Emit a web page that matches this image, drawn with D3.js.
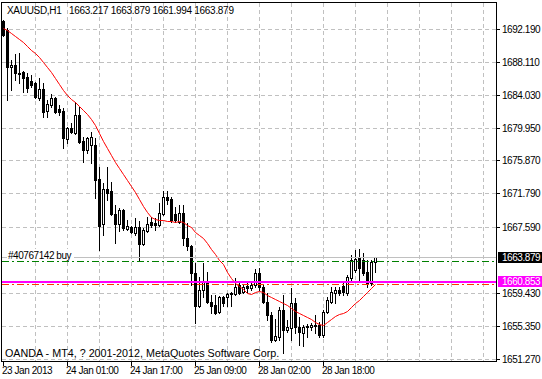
<!DOCTYPE html>
<html><head><meta charset="utf-8">
<script src="https://cdn.jsdelivr.net/npm/d3@7"></script>
<style>
html,body{margin:0;padding:0;background:#fff;overflow:hidden}
svg{display:block}
text{font-family:"Liberation Sans",Arial,sans-serif;font-size:10px;letter-spacing:-0.45px;fill:#000;white-space:pre}
</style>
</head><body><svg id="c" width="542" height="379"></svg>
<script>
// ---- data (XAUUSD H1) ----
const openP = [
1693.18,1692.06,1687.46,1687.71,1686.72,1686.84,1686.22,1685.72,1685.47,1683.61,
1684.73,1681.99,1682.74,1683.61,1682.24,1681.99,1678.51,1679.88,1679.26,1681.50,
1678.26,1677.15,1677.77,1677.77,1673.54,1667.95,1672.30,1672.05,1669.19,1667.95,
1669.69,1667.32,1667.57,1666.83,1667.57,1665.46,1667.08,1668.20,1668.07,1667.82,
1669.19,1671.30,1671.05,1669.19,1668.20,1669.31,1666.21,1665.21,1661.86,1657.75,
1659.74,1660.86,1658.25,1657.88,1657.01,1658.87,1658.87,1659.37,1659.24,1660.37,
1659.49,1660.24,1659.99,1660.37,1661.86,1660.11,1658.25,1656.63,1653.53,1653.90,
1657.26,1654.77,1655.02,1658.12,1655.14,1654.40,1655.27,1655.14,1655.39,1655.39,
1654.15,1657.01,1658.25,1659.37,1659.74,1660.24,1659.37,1661.23,1662.23,1663.72,
1663.47,1661.98,1660.61,1663.217];
const highP = [
1693.30,1692.31,1688.33,1689.08,1689.20,1686.97,1686.72,1686.47,1685.60,1686.10,
1685.47,1683.36,1684.11,1683.73,1682.74,1682.37,1680.00,1680.50,1683.11,1682.49,
1678.76,1678.76,1679.38,1678.64,1675.03,1673.04,1675.03,1673.17,1670.31,1669.94,
1669.81,1668.44,1667.70,1668.69,1668.32,1667.45,1668.82,1668.82,1668.69,1670.56,
1672.05,1672.05,1671.30,1670.06,1670.31,1670.31,1668.07,1665.34,1663.10,1661.36,
1663.10,1661.98,1659.12,1659.12,1658.99,1658.99,1659.37,1659.49,1661.23,1660.61,
1660.37,1660.61,1660.61,1662.35,1662.48,1660.37,1659.37,1657.01,1656.14,1657.63,
1659.12,1656.01,1659.99,1658.75,1656.39,1655.39,1655.52,1655.64,1656.63,1655.77,
1657.26,1658.87,1660.11,1660.11,1660.11,1660.74,1661.61,1664.09,1664.72,1664.84,
1664.34,1663.47,1663.47,1663.879];
const lowP = [
1691.32,1683.36,1684.60,1685.85,1685.47,1684.35,1684.35,1684.98,1683.61,1683.36,
1681.25,1681.25,1682.49,1681.74,1681.50,1677.39,1678.01,1679.26,1679.13,1678.01,
1675.65,1676.77,1675.53,1671.18,1664.72,1666.58,1670.93,1669.07,1665.59,1667.08,
1667.20,1667.20,1666.83,1666.58,1663.47,1665.34,1666.95,1667.57,1667.20,1667.70,
1669.07,1670.43,1668.20,1668.20,1668.07,1665.34,1664.72,1660.37,1655.64,1657.63,
1658.87,1658.12,1656.88,1656.76,1656.88,1657.75,1657.75,1657.75,1659.12,1659.24,
1659.37,1659.49,1659.74,1660.11,1659.74,1658.12,1656.01,1653.28,1653.40,1653.53,
1651.91,1654.52,1653.53,1654.40,1652.91,1652.78,1653.90,1654.77,1654.40,1653.90,
1653.90,1656.88,1658.12,1658.12,1659.12,1659.12,1659.12,1660.99,1661.98,1660.99,
1661.61,1660.11,1660.37,1661.994];
const closeP = [
1691.44,1687.46,1687.71,1686.72,1686.59,1686.10,1684.85,1685.23,1683.73,1684.73,
1681.87,1682.86,1683.61,1681.87,1681.87,1678.64,1679.88,1679.38,1681.50,1678.14,
1677.15,1678.64,1678.76,1673.42,1667.70,1672.30,1671.80,1669.19,1667.95,1669.69,
1667.45,1667.70,1666.95,1667.57,1665.46,1667.20,1667.95,1667.82,1667.82,1669.31,
1671.30,1670.93,1668.44,1668.44,1669.31,1666.21,1665.21,1661.86,1657.75,1659.74,
1660.86,1658.25,1657.75,1656.88,1658.87,1658.12,1659.24,1659.30,1660.11,1659.37,
1660.11,1659.99,1660.37,1661.86,1660.11,1658.25,1656.63,1653.53,1654.03,1657.26,
1654.77,1655.14,1658.12,1655.14,1654.52,1655.14,1655.22,1655.39,1655.35,1654.15,
1657.01,1658.50,1659.49,1659.74,1659.37,1659.49,1661.36,1663.47,1663.60,1662.48,
1661.86,1660.61,1663.22,1663.879];
const maP = [
1692.31,1692.06,1691.69,1691.32,1690.94,1690.57,1690.07,1689.58,1689.20,1688.71,
1688.08,1687.46,1686.84,1686.10,1685.35,1684.60,1683.98,1683.48,1683.11,1682.61,
1682.12,1681.62,1681.00,1680.25,1679.26,1678.26,1677.39,1676.52,1675.65,1674.91,
1674.16,1673.42,1672.67,1671.92,1671.05,1670.18,1669.44,1668.82,1668.57,1668.44,
1668.44,1668.32,1668.32,1668.20,1668.32,1668.20,1667.82,1667.57,1666.95,1666.58,
1666.21,1665.59,1664.84,1664.22,1663.47,1662.98,1661.98,1661.23,1660.61,1660.24,
1659.87,1659.37,1659.24,1659.49,1659.62,1659.49,1659.12,1658.87,1658.63,1658.38,
1658.12,1657.88,1657.50,1657.13,1656.88,1656.63,1656.39,1656.14,1655.77,1655.52,
1655.39,1655.77,1656.14,1656.51,1656.76,1656.88,1657.13,1657.63,1658.12,1658.50,
1658.99,1659.49,1659.99,1660.49];
const yTickValues = [1692.19,1688.11,1684.03,1679.95,1675.87,1671.79,1667.59,1659.43,1655.35,1651.27];
const xTickBars = [0,16,32,48,64,80];
const xTickLabels = ["23 Jan 2013","24 Jan 01:00","24 Jan 17:00","25 Jan 09:00","28 Jan 02:00","28 Jan 18:00"];
const gridBars = [8,16,24,32,40,48,56,64,72,80,88,96,104,112,120];
const titleText = "XAUUSD,H1   1663.217 1663.879 1661.994 1663.879";
const footerText = "OANDA - MT4, ? 2001-2012, MetaQuotes Software Corp.";
const orderLabel = "#40767142 buy";
const bidPrice = 1663.879;
const orderPrice = 1663.38;
const stopPrice = 1660.52;
const hlinePrice = 1660.853;

// ---- drawing ----
const svg = d3.select("#c");
const L = 1.5, T = 2.5, R = 496.5, B = 361.5;
const x = d3.scaleLinear().domain([0, 1]).range([3, 7]);           // left edge of centre pixel column
const y = d3.scaleLinear().domain([1651.27, 1692.19]).rangeRound([358.6, 29]);

svg.append("rect").attr("width", 542).attr("height", 379).attr("fill", "#fff");

// grid
const grid = svg.append("g").attr("stroke", "#c0c0c0").attr("stroke-dasharray", "4,3")
  .attr("shape-rendering", "crispEdges");
grid.selectAll("line.v").data(gridBars).join("line").attr("class", "v")
  .attr("x1", d => x(d) + 0.5).attr("x2", d => x(d) + 0.5).attr("y1", T).attr("y2", B);
grid.selectAll("line.h").data(yTickValues).join("line").attr("class", "h")
  .attr("x1", L).attr("x2", R).attr("y1", d => y(d) + 0.5).attr("y2", d => y(d) + 0.5);

// candles
const idx = d3.range(openP.length);
const cg = svg.append("g").attr("shape-rendering", "crispEdges");
idx.forEach(i => {
  const o = openP[i], h = highP[i], l = lowP[i], c = closeP[i];
  const yh = y(h), yl = y(l);
  cg.append("rect").attr("x", x(i)).attr("y", yh).attr("width", 1).attr("height", yl - yh + 1).attr("fill", "#000");
  const top = y(Math.max(o, c)), bot = y(Math.min(o, c));
  cg.append("rect").attr("x", x(i) - 1).attr("y", top).attr("width", 3).attr("height", bot - top + 1).attr("fill", "#000");
  if (c > o && bot - top >= 2) {
    cg.append("rect").attr("x", x(i)).attr("y", top + 1).attr("width", 1).attr("height", bot - top - 1).attr("fill", "#fff");
  }
});

// moving average
svg.append("path").datum(maP)
  .attr("d", d3.line().x((d, i) => x(i) + 0.5).y(d => y(d) + 0.5))
  .attr("fill", "none").attr("stroke", "#ff0000").attr("stroke-width", 1);

// bid line
svg.append("line").attr("x1", L).attr("x2", R).attr("y1", y(bidPrice) + 0.5).attr("y2", y(bidPrice) + 0.5)
  .attr("stroke", "#c0c0c0").attr("shape-rendering", "crispEdges");
// order label
svg.append("rect").attr("x", 7).attr("y", y(bidPrice) - 8).attr("width", 67).attr("height", 11).attr("fill", "#fff");
svg.append("text").attr("x", 8).attr("y", y(bidPrice) + 2).text(orderLabel);
// order line
svg.append("line").attr("x1", L).attr("x2", R).attr("y1", y(orderPrice) + 0.5).attr("y2", y(orderPrice) + 0.5)
  .attr("stroke", "#008000").attr("stroke-dasharray", "7,3,2,3").attr("shape-rendering", "crispEdges");
// horizontal line object
svg.append("line").attr("x1", L).attr("x2", R).attr("y1", y(hlinePrice) + 1).attr("y2", y(hlinePrice) + 1)
  .attr("stroke", "#ff00ff").attr("stroke-width", 2).attr("shape-rendering", "crispEdges");
// stop line
svg.append("line").attr("x1", L).attr("x2", R).attr("y1", y(stopPrice) + 0.5).attr("y2", y(stopPrice) + 0.5)
  .attr("stroke", "#ff3300").attr("stroke-dasharray", "7,3,2,3").attr("shape-rendering", "crispEdges");

// frame
svg.append("rect").attr("x", L).attr("y", T).attr("width", R - L).attr("height", B - T)
  .attr("fill", "none").attr("stroke", "#000").attr("shape-rendering", "crispEdges");

// y axis
svg.append("g").attr("transform", `translate(${R + 0.5},0)`)
  .call(d3.axisRight(y).tickValues(yTickValues).tickSize(3).tickPadding(2).tickFormat(d3.format(".3f")))
  .call(g => g.select(".domain").remove())
  .call(g => g.selectAll("line").attr("stroke", "#000").attr("shape-rendering", "crispEdges"));

// x axis
svg.append("g").attr("transform", `translate(0,${B + 0.5})`)
  .call(d3.axisBottom(x).tickValues(xTickBars).tickSize(4).tickPadding(1).tickFormat((d, i) => xTickLabels[i]))
  .call(g => g.select(".domain").remove())
  .call(g => g.selectAll("line").attr("stroke", "#000").attr("shape-rendering", "crispEdges"))
  .call(g => g.selectAll("text").attr("text-anchor", "start").attr("x", -1.5));

// price labels on axis
function priceTag(p, bg) {
  const yy = y(p);
  svg.append("rect").attr("x", 498).attr("y", yy - 5).attr("width", 44).attr("height", 11).attr("fill", bg);
  svg.append("text").attr("x", 502).attr("y", yy + 4).style("fill", "#fff").text(d3.format(".3f")(p));
}
priceTag(bidPrice, "#000");
priceTag(hlinePrice, "#ff00ff");

// title and footer
svg.append("text").attr("x", 7).attr("y", 14).style("letter-spacing", "-0.3px").text(titleText);
svg.append("text").attr("x", 5).attr("y", 356.5).style("font-size", "10.75px").style("letter-spacing", "0px").text(footerText);
</script></body></html>
